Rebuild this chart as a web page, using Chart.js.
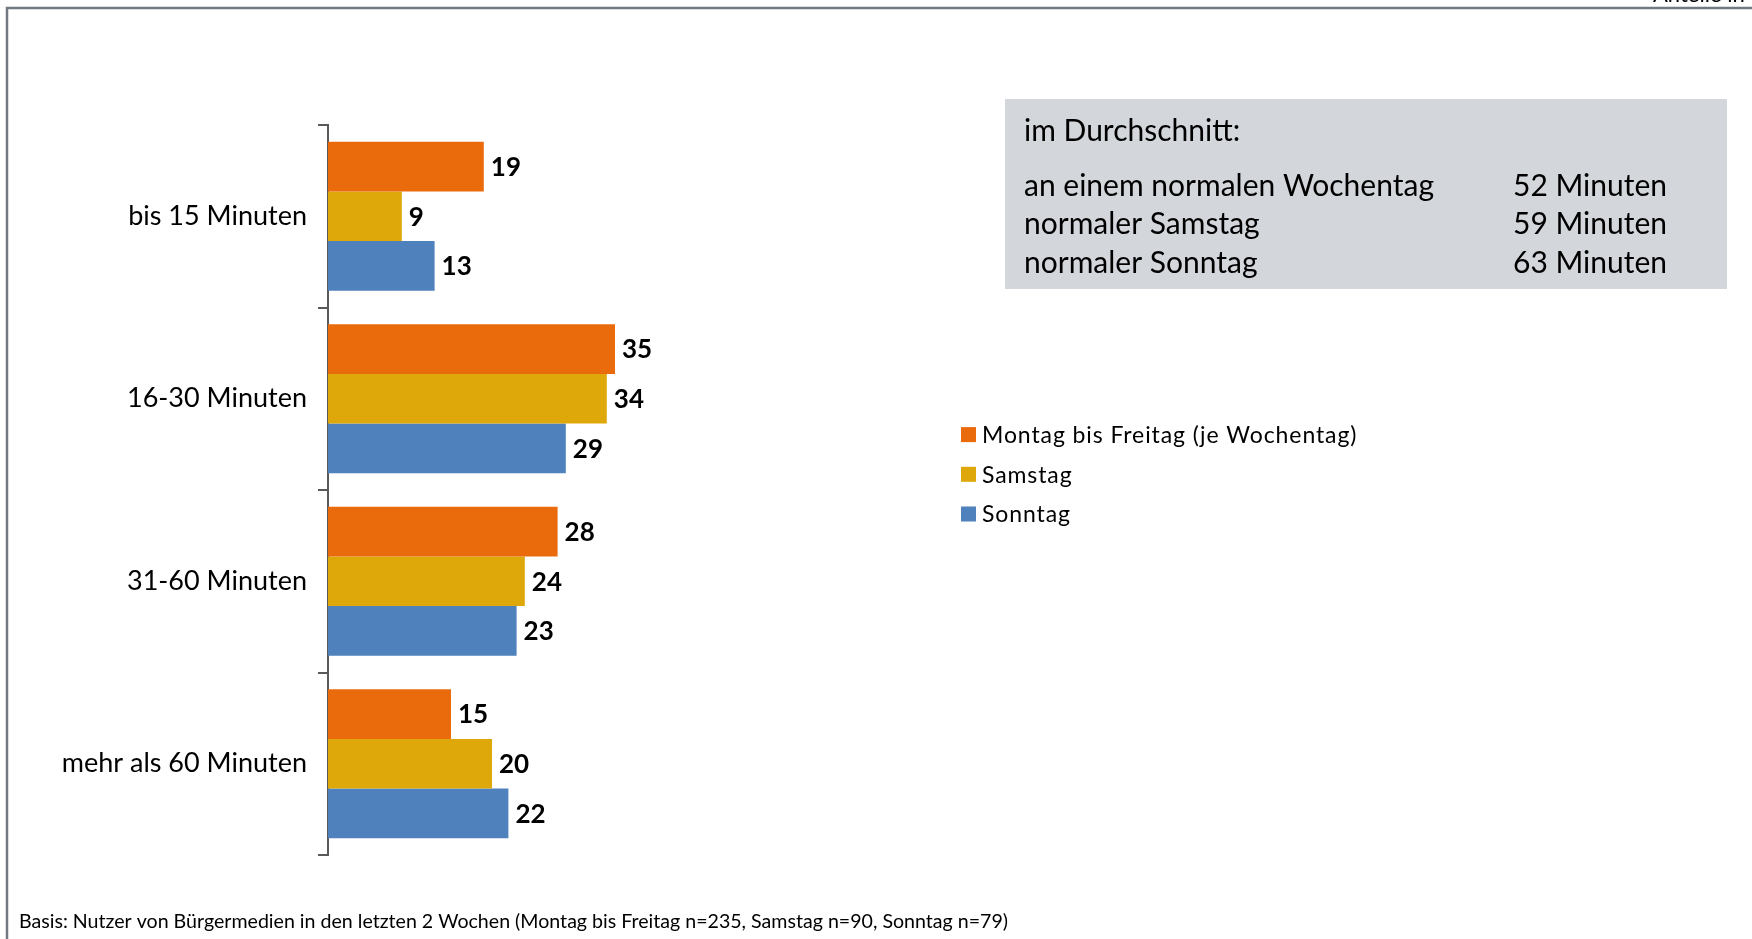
<!DOCTYPE html>
<html lang="de">
<head>
<meta charset="utf-8">
<title>Nutzungsdauer Bürgermedien</title>
<script src="https://cdn.jsdelivr.net/npm/chart.js@4.4.1/dist/chart.umd.min.js"></script>
<style>
  html, body { margin: 0; padding: 0; background: #ffffff; }
  #wrap { position: relative; width: 1752px; height: 939px; overflow: hidden; }
  canvas { display: block; }
</style>
</head>
<body>
<div id="wrap"><canvas id="chart" width="1752" height="939"></canvas></div>
<script>
// Kategorien (Nutzungsdauer) und Anteile in % je Tagestyp
const categories = ['bis 15 Minuten', '16-30 Minuten', '31-60 Minuten', 'mehr als 60 Minuten'];
const seriesNames = ['Montag bis Freitag (je Wochentag)', 'Samstag', 'Sonntag'];
const weekdayValues = [19, 35, 28, 15];
const saturdayValues = [9, 34, 24, 20];
const sundayValues = [13, 29, 23, 22];

// Durchschnittliche Nutzungsdauer in Minuten
const averageTitle = 'im Durchschnitt:';
const averageLabels = ['an einem normalen Wochentag', 'normaler Samstag', 'normaler Sonntag'];
const averageMinutes = [52, 59, 63];

const footnote = 'Basis: Nutzer von Bürgermedien in den letzten 2 Wochen (Montag bis Freitag n=235, Samstag n=90, Sonntag n=79)';
const unitNote = 'Anteile in %';

const seriesColors = ['#EA6B0C', '#DFA80A', '#4F81BD'];
const FONT = 'Lato, "Open Sans", "Noto Sans", sans-serif';

// Rahmen, Hinweis oben rechts und Fußnote
const framePlugin = {
  id: 'frame',
  beforeDraw(chart) {
    const ctx = chart.ctx;
    ctx.save();
    ctx.fillStyle = '#ffffff';
    ctx.fillRect(0, 0, chart.width, chart.height);
    ctx.strokeStyle = '#737980';
    ctx.lineWidth = 2.5;
    ctx.beginPath();
    ctx.moveTo(7, chart.height);
    ctx.lineTo(7, 8);
    ctx.lineTo(chart.width, 8);
    ctx.stroke();

    ctx.fillStyle = '#000000';
    ctx.font = '22px ' + FONT;
    ctx.textAlign = 'left';
    ctx.textBaseline = 'alphabetic';
    ctx.fillText(unitNote, 1653, 2);

    ctx.font = '19.6px ' + FONT;
    ctx.fillText(footnote, 19, 928);
    ctx.restore();
  }
};

// Kasten mit den Durchschnittswerten
const averageBoxPlugin = {
  id: 'averageBox',
  afterDraw(chart) {
    const ctx = chart.ctx;
    ctx.save();
    ctx.fillStyle = '#D3D6DB';
    ctx.fillRect(1005, 99, 722, 190);
    ctx.fillStyle = '#000000';
    ctx.font = '30px ' + FONT;
    ctx.textBaseline = 'middle';
    ctx.textAlign = 'left';
    ctx.fillText(averageTitle, 1024, 131);
    const rowY = [186.5, 224.5, 263.5];
    averageLabels.forEach((label, i) => {
      ctx.fillText(label, 1024, rowY[i]);
      ctx.fillText(averageMinutes[i] + ' Minuten', 1513, rowY[i]);
    });
    ctx.restore();
  }
};

// Legende rechts neben den Balken
const sideLegendPlugin = {
  id: 'sideLegend',
  afterDraw(chart) {
    const ctx = chart.ctx;
    ctx.save();
    ctx.font = '23px ' + FONT;
    ctx.textBaseline = 'middle';
    ctx.textAlign = 'left';
    if ('letterSpacing' in ctx) ctx.letterSpacing = '0.9px';
    chart.data.datasets.forEach((ds, i) => {
      const cy = 434.6 + i * 39.7;
      ctx.fillStyle = ds.backgroundColor;
      ctx.fillRect(961, cy - 7.5, 15, 15);
      ctx.fillStyle = '#000000';
      ctx.fillText(ds.label, 982, cy + 1);
    });
    ctx.restore();
  }
};

// Wertebeschriftung rechts an jedem Balken
const valueLabelPlugin = {
  id: 'valueLabels',
  afterDatasetsDraw(chart) {
    const ctx = chart.ctx;
    ctx.save();
    ctx.font = 'bold 26px ' + FONT;
    ctx.fillStyle = '#000000';
    ctx.textAlign = 'left';
    ctx.textBaseline = 'middle';
    chart.data.datasets.forEach((ds, di) => {
      const meta = chart.getDatasetMeta(di);
      meta.data.forEach((bar, i) => {
        ctx.fillText(String(ds.data[i]), bar.x + 7, bar.y + 1);
      });
    });
    ctx.restore();
  }
};

const values = [weekdayValues, saturdayValues, sundayValues];

new Chart(document.getElementById('chart'), {
  type: 'bar',
  data: {
    labels: categories,
    datasets: seriesNames.map((name, i) => ({
      label: name,
      data: values[i],
      backgroundColor: seriesColors[i],
      borderWidth: 0,
      categoryPercentage: 0.817,
      barPercentage: 1.0
    }))
  },
  options: {
    indexAxis: 'y',
    responsive: false,
    animation: false,
    devicePixelRatio: 1,
    layout: { padding: { left: 0, right: 1096, top: 125, bottom: 84 } },
    plugins: {
      legend: { display: false },
      tooltip: { enabled: false }
    },
    scales: {
      x: { type: 'linear', min: 0, max: 40, display: false },
      y: {
        type: 'category',
        offset: true,
        grid: {
          display: true,
          offset: true,
          drawOnChartArea: false,
          drawTicks: true,
          tickLength: 10,
          color: '#595959',
          lineWidth: 2
        },
        border: { display: true, color: '#595959', width: 2 },
        ticks: {
          color: '#000000',
          padding: 11,
          font: { family: FONT, size: 27 }
        },
        afterFit(scale) { scale.width = 328; }
      }
    }
  },
  plugins: [framePlugin, valueLabelPlugin, averageBoxPlugin, sideLegendPlugin]
});
</script>
</body>
</html>
